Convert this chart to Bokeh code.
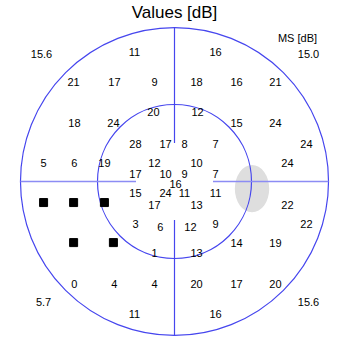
from bokeh.plotting import figure
from bokeh.models import ColumnDataSource, Range1d
from bokeh.core.properties import value
from bokeh.embed import file_html
from bokeh.resources import INLINE

# ---- data (degrees of visual field; None = absolute defect, drawn as square) ----
pt_x = [-15.6, 16.0,
        -39.3, -23.4, -7.8, 8.6, 24.2, 39.3,
        -8.2, 9.0,
        -39.0, -23.8, 24.2, 39.3,
        -15.2, -3.5, 3.9, 16.0, 51.4,
        -51.0, -39.0, -27.3, -7.8, 8.6, 44.0,
        -15.2, -3.5, 3.9, 16.0,
        0.4,
        -15.2, -3.5, 3.9, 16.0,
        -51.0, -39.3, -27.3,
        -7.8, 8.6, 44.0,
        -15.2, 16.0, 51.4,
        -5.5, 6.2,
        -39.3, -23.8, 24.2, 39.3,
        -7.8, 8.6,
        -39.0, -23.4, -7.8, 8.6, 24.2, 39.3,
        -15.6, 16.0]
pt_y = [50.3, 50.3,
        38.6, 38.6, 38.6, 38.6, 38.6, 38.6,
        26.9, 26.9,
        22.6, 22.6, 22.6, 22.6,
        14.8, 14.8, 14.8, 14.8, 14.8,
        7.4, 7.4, 7.4, 7.4, 7.4, 7.4,
        3.1, 3.1, 3.1, 3.1,
        -0.8,
        -4.3, -4.3, -4.3, -4.3,
        -8.2, -8.2, -8.2,
        -9.0, -9.0, -9.0,
        -16.4, -16.4, -16.4,
        -17.9, -17.9,
        -23.8, -23.8, -23.8, -23.8,
        -28.0, -28.0,
        -40.1, -40.1, -40.1, -40.1, -40.1, -40.1,
        -51.8, -51.8]
pt_val = [11, 16,
          21, 17, 9, 18, 16, 21,
          20, 12,
          18, 24, 15, 24,
          28, 17, 8, 7, 24,
          5, 6, 19, 12, 10, 24,
          17, 10, 9, 7,
          16,
          15, 24, 11, 11,
          None, None, None,
          17, 13, 22,
          3, 9, 22,
          6, 12,
          None, None, 14, 19,
          1, 13,
          0, 4, 4, 20, 17, 20,
          11, 16]

quadrant_labels = ["15.6", "15.0", "5.7", "15.6"]
quadrant_x = [-51.8, 52.2, -51.0, 52.2]
quadrant_y = [49.5, 49.5, -47.1, -47.1]

title_text = "Values [dB]"
ms_label = "MS [dB]"

# blind spot
bs_x, bs_y, bs_w, bs_h = 30.2, -2.8, 13.4, 18.4

# ---- layout ----
S = 2.567          # px per degree
CX, CY = 174, 181  # pixel of fixation
W, H = 345, 343
BLUE = "#4646EE"
FONT = value("Liberation Sans")

p = figure(width=W, height=H, output_backend="svg", toolbar_location=None,
           x_range=Range1d(-CX / S, (W - CX) / S),
           y_range=Range1d(-(H - CY) / S, CY / S),
           x_axis_location=None, y_axis_location=None,
           min_border=0, outline_line_color=None)
p.xgrid.visible = False
p.ygrid.visible = False
p.background_fill_color = "white"
p.border_fill_color = "white"

# blind spot
p.ellipse(x=[bs_x], y=[bs_y], width=[bs_w], height=[bs_h],
          fill_color="#DEDEDE", line_color=None)

# rings
p.ellipse(x=[0, 0], y=[0, 0], width=[120, 60], height=[120, 60],
          fill_color=None, line_color=BLUE, line_width=1.2)

# axes cross (gap in centre)
p.segment(x0=[0, 0], y0=[15, -15], x1=[0, 0], y1=[60, -60],
          line_color=BLUE, line_width=1.2)
p.segment(x0=[-60, 15], y0=[0, 0], x1=[-15, 60], y1=[0, 0],
          line_color="#8C8CF4", line_width=1.6)

# values
tx, ty, tv, sx, sy = [], [], [], [], []
for x, y, v in zip(pt_x, pt_y, pt_val):
    if v is None:
        sx.append(x); sy.append(y)
    else:
        tx.append(x); ty.append(y); tv.append(str(v))

p.text(x="x", y="y", text="t", source=ColumnDataSource(dict(x=tx, y=ty, t=tv)),
       text_font=FONT, text_font_size="11px", text_color="black",
       text_align="center", text_baseline="middle")
p.scatter(x=sx, y=sy, marker="square", size=8, color="black")

# quadrant mean sensitivities
p.text(x=quadrant_x, y=quadrant_y, text=quadrant_labels,
       text_font=FONT, text_font_size="11px", text_color="black",
       text_align="center", text_baseline="middle")

# labels
p.text(x=[0], y=[(CY - 12) / S], text=[title_text], text_font=FONT,
       text_font_size="17px", text_color="black",
       text_align="center", text_baseline="middle")
p.text(x=[(297 - CX) / S], y=[(CY - 37) / S], text=[ms_label], text_font=FONT,
       text_font_size="11px", text_color="black",
       text_align="center", text_baseline="middle")

open("out.html", "w").write(file_html(p, INLINE))
